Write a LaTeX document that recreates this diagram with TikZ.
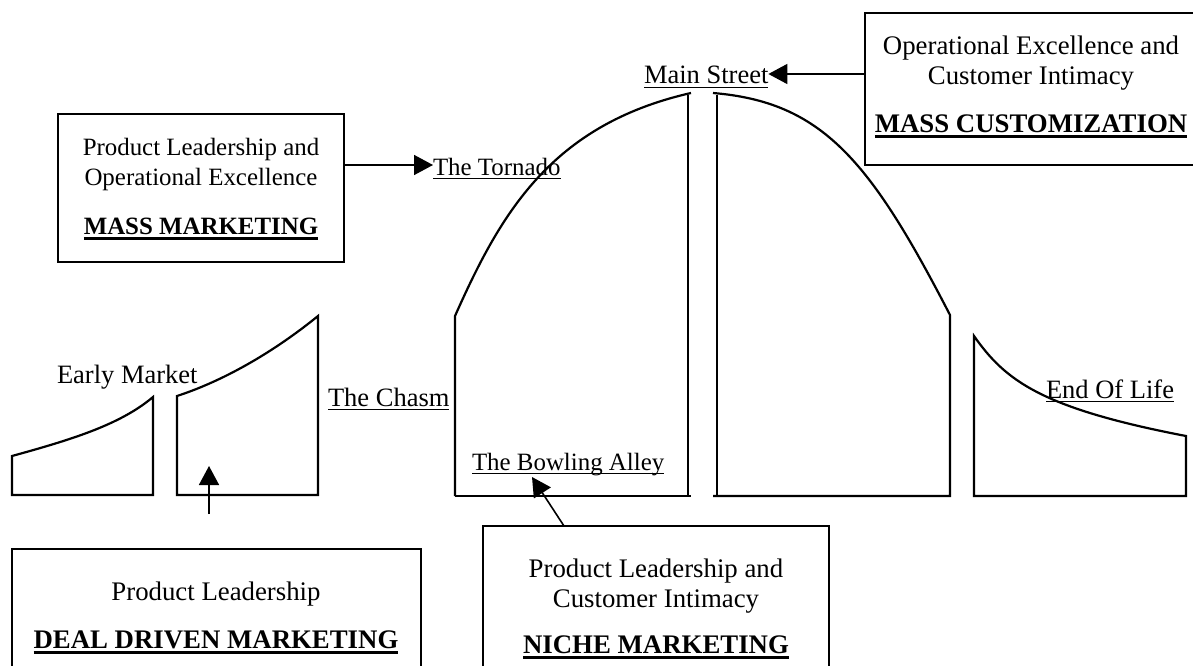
\documentclass[tikz,border=0pt]{standalone}
\usepackage{fontspec}
\setmainfont{Liberation Serif}
\usetikzlibrary{arrows.meta}
\newcommand\ulN[1]{\setbox0=\hbox{#1}\rlap{\rule[-4.2pt]{\wd0}{1.5pt}}\box0}
\newcommand\ulB[1]{\setbox0=\hbox{\bfseries #1}\rlap{\rule[-6.2pt]{\wd0}{2.8pt}}\box0}
\newcommand\fsA{\fontsize{24.9}{30}\selectfont}
\newcommand\fsB{\fontsize{26.8}{30}\selectfont}
\newcommand\fsL{\fontsize{26.5}{30}\selectfont}
\begin{document}
\begin{tikzpicture}[x=1pt,y=-1pt,
  font=\fsA,
  lbl/.style={inner sep=0pt, outer sep=0pt, anchor=base west},
  ctr/.style={inner sep=0pt, outer sep=0pt, anchor=base},
  boxst/.style={draw, line width=1.8pt, inner sep=0pt, outer sep=0pt, anchor=north west},
  shp/.style={line width=2.2pt},
  arr/.style={line width=1.6pt, -{Triangle[length=19pt,width=20pt]}}]
\useasboundingbox (0,0) rectangle (1193,666);
\clip (0,0) rectangle (1193,666);
% market shapes
\draw[shp] (12,495) -- (12,456) .. controls (70,440) and (120,425) .. (153,397) -- (153,495) -- cycle;
\draw[shp] (177,495) -- (177,396) .. controls (220,382) and (270,355) .. (318,316) -- (318,495) -- cycle;
\draw[shp] (455,496) -- (455,316) .. controls (500,215) and (550,125) .. (691,93);
\draw[shp] (688,95) -- (688,496);
\draw[shp] (455,496) -- (691,496);
\draw[shp] (713,93) .. controls (822,102) and (870,160) .. (950,315) -- (950,496) -- (713,496);
\draw[shp] (717,95) -- (717,496);
\draw[shp] (974,496) -- (974,336) .. controls (1005,380) and (1040,408) .. (1186,436) -- (1186,496) -- cycle;
% labels
\node[lbl, font=\fsL] (early) at (57,383) {Early Market};
\node[lbl, font=\fsL] (chasm) at (328,406) {\ulN{The Chasm}};
\node[lbl] (bowl) at (472,470) {\ulN{The Bowling Alley}};
\node[lbl] (torn) at (433,175) {\ulN{The Tornado}};
\node[lbl, font=\fsL] (main) at (644,84) {\ulN{Main Street}};
\node[lbl, font=\fsL] (eol) at (1046,398) {\ulN{End Of Life}};
% boxes
\node[boxst, minimum width=286pt, minimum height=148pt] (mm) at (58,114) {};
\node[ctr] (mm1) at (201,155) {Product Leadership and};
\node[ctr] (mm2) at (201,185) {Operational Excellence};
\node[ctr] (mm3) at (201,234) {\ulB{MASS MARKETING}};
\node[boxst, minimum width=340pt, minimum height=152pt] (mc) at (865,13) {};
\node[ctr, font=\fsB] (mc1) at (1031,55) {Operational Excellence and};
\node[ctr, font=\fsB] (mc2) at (1031,85) {Customer Intimacy};
\node[ctr, font=\fsB] (mc3) at (1031,132) {\ulB{MASS CUSTOMIZATION}};
\node[boxst, minimum width=409pt, minimum height=140pt] (dd) at (12,549) {};
\node[ctr, font=\fsB] (dd1) at (216,600) {Product Leadership};
\node[ctr, font=\fsB] (dd2) at (216,648) {\ulB{DEAL DRIVEN MARKETING}};
\node[boxst, minimum width=346pt, minimum height=160pt] (nm) at (483,526) {};
\node[ctr, font=\fsB] (nm1) at (656,577) {Product Leadership and};
\node[ctr, font=\fsB] (nm2) at (656,607) {Customer Intimacy};
\node[ctr, font=\fsB] (nm3) at (656,653) {\ulB{NICHE MARKETING}};
% connectors
\coordinate (tortip) at (433,165);
\draw[arr] (mm.east |- tortip) -- (tortip);
\coordinate (maintip) at (main.east |- 0,74);
\draw[arr] (mc.west |- maintip) -- (maintip);
\coordinate (ddtail) at (209,514);
\coordinate (ddtip) at (209,466);
\draw[arr] (ddtail) -- (ddtip);
\coordinate (nmtail) at (564,526);
\coordinate (nmtip) at (532,477);
\draw[arr] (nmtail) -- (nmtip);
\end{tikzpicture}
\end{document}
